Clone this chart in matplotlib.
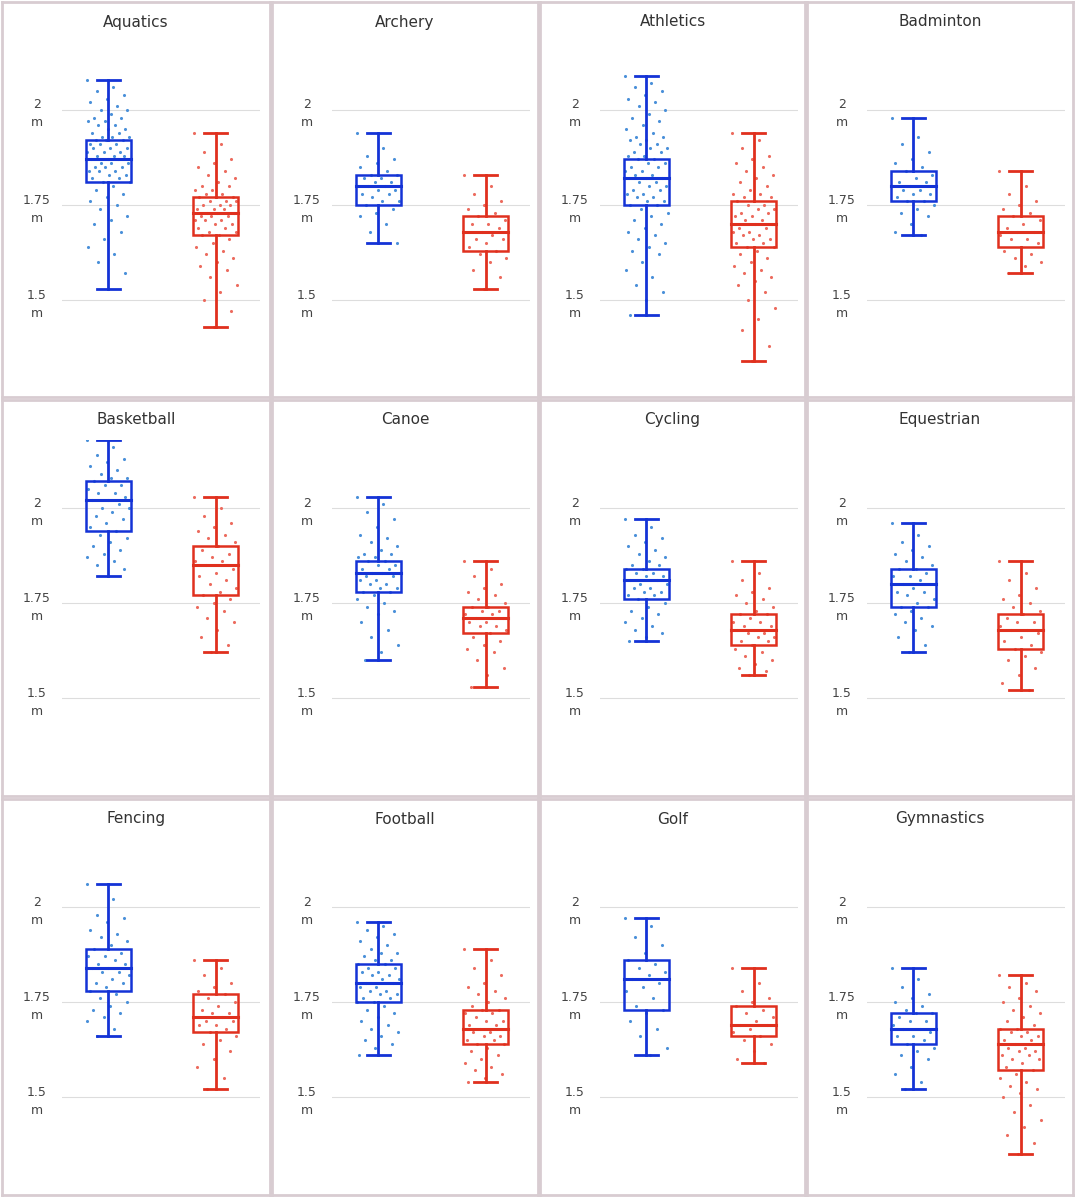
import matplotlib
matplotlib.use('Agg')
import matplotlib.pyplot as plt

SPORTS = ['Aquatics', 'Archery', 'Athletics', 'Badminton',
          'Basketball', 'Canoe', 'Cycling', 'Equestrian',
          'Fencing', 'Football', 'Golf', 'Gymnastics']

# box stats: whisker low, q1, median, q3, whisker high (metres)
MEN_BOX = [
    [1.53, 1.81, 1.87, 1.92, 2.08], [1.65, 1.75, 1.80, 1.83, 1.94],
    [1.46, 1.75, 1.82, 1.87, 2.09], [1.67, 1.76, 1.80, 1.84, 1.98],
    [1.82, 1.94, 2.02, 2.07, 2.18], [1.60, 1.78, 1.83, 1.86, 2.03],
    [1.65, 1.76, 1.81, 1.84, 1.97], [1.62, 1.74, 1.80, 1.84, 1.96],
    [1.66, 1.78, 1.84, 1.89, 2.06], [1.61, 1.75, 1.80, 1.85, 1.96],
    [1.61, 1.73, 1.81, 1.86, 1.97], [1.52, 1.64, 1.68, 1.72, 1.84],
]
WOMEN_BOX = [
    [1.43, 1.67, 1.73, 1.77, 1.94], [1.53, 1.63, 1.68, 1.72, 1.83],
    [1.34, 1.64, 1.70, 1.76, 1.94], [1.57, 1.64, 1.68, 1.72, 1.84],
    [1.62, 1.77, 1.85, 1.90, 2.03], [1.53, 1.67, 1.71, 1.74, 1.86],
    [1.56, 1.64, 1.68, 1.72, 1.86], [1.52, 1.63, 1.68, 1.72, 1.86],
    [1.52, 1.67, 1.71, 1.77, 1.86], [1.54, 1.64, 1.68, 1.73, 1.89],
    [1.59, 1.66, 1.69, 1.74, 1.84], [1.35, 1.57, 1.64, 1.68, 1.82],
]

# individual athlete heights (approximate readings)
MEN_PTS = [
    [2.08, 2.06, 2.05, 2.04, 2.03, 2.02, 2.01, 2.00, 2.00, 1.99, 1.98, 1.98, 1.97, 1.97, 1.96, 1.96, 1.95, 1.95, 1.94, 1.94, 1.93, 1.93, 1.93, 1.92, 1.92, 1.92, 1.91, 1.91, 1.91, 1.90, 1.90, 1.90, 1.89, 1.89, 1.89, 1.88, 1.88, 1.88, 1.87, 1.87, 1.87, 1.86, 1.86, 1.86, 1.85, 1.85, 1.85, 1.84, 1.84, 1.84, 1.83, 1.83, 1.82, 1.82, 1.81, 1.81, 1.80, 1.79, 1.78, 1.77, 1.76, 1.75, 1.74, 1.72, 1.71, 1.70, 1.68, 1.66, 1.64, 1.62, 1.60, 1.57, 1.53],
    [1.94, 1.90, 1.88, 1.87, 1.86, 1.85, 1.84, 1.83, 1.83, 1.82, 1.82, 1.81, 1.81, 1.80, 1.80, 1.80, 1.79, 1.79, 1.78, 1.78, 1.77, 1.76, 1.76, 1.75, 1.74, 1.73, 1.72, 1.70, 1.68, 1.65],
    [2.09, 2.07, 2.06, 2.05, 2.04, 2.03, 2.02, 2.01, 2.00, 1.99, 1.98, 1.97, 1.96, 1.95, 1.94, 1.93, 1.93, 1.92, 1.92, 1.91, 1.91, 1.90, 1.90, 1.89, 1.89, 1.88, 1.88, 1.87, 1.87, 1.86, 1.86, 1.85, 1.85, 1.84, 1.84, 1.83, 1.83, 1.82, 1.82, 1.82, 1.81, 1.81, 1.80, 1.80, 1.79, 1.79, 1.78, 1.78, 1.77, 1.77, 1.76, 1.76, 1.75, 1.75, 1.74, 1.73, 1.72, 1.71, 1.70, 1.69, 1.68, 1.67, 1.66, 1.65, 1.64, 1.63, 1.62, 1.60, 1.58, 1.56, 1.54, 1.52, 1.50, 1.46],
    [1.98, 1.93, 1.91, 1.89, 1.87, 1.86, 1.85, 1.84, 1.83, 1.82, 1.81, 1.81, 1.80, 1.80, 1.79, 1.79, 1.78, 1.78, 1.77, 1.76, 1.76, 1.75, 1.74, 1.73, 1.72, 1.70, 1.68, 1.67],
    [2.18, 2.16, 2.14, 2.13, 2.12, 2.11, 2.10, 2.09, 2.08, 2.08, 2.07, 2.06, 2.06, 2.05, 2.04, 2.04, 2.03, 2.02, 2.02, 2.01, 2.00, 2.00, 1.99, 1.98, 1.97, 1.96, 1.95, 1.94, 1.93, 1.92, 1.91, 1.90, 1.89, 1.88, 1.87, 1.86, 1.85, 1.84, 1.82],
    [2.03, 2.01, 1.99, 1.97, 1.95, 1.93, 1.92, 1.91, 1.90, 1.89, 1.88, 1.88, 1.87, 1.87, 1.86, 1.86, 1.85, 1.85, 1.84, 1.84, 1.83, 1.83, 1.83, 1.82, 1.82, 1.81, 1.81, 1.80, 1.80, 1.79, 1.79, 1.78, 1.78, 1.77, 1.76, 1.75, 1.74, 1.73, 1.72, 1.70, 1.68, 1.66, 1.64, 1.62, 1.60],
    [1.97, 1.95, 1.93, 1.92, 1.91, 1.90, 1.89, 1.88, 1.87, 1.86, 1.85, 1.85, 1.84, 1.84, 1.83, 1.83, 1.82, 1.82, 1.81, 1.81, 1.80, 1.80, 1.79, 1.79, 1.78, 1.78, 1.77, 1.77, 1.76, 1.75, 1.74, 1.73, 1.72, 1.71, 1.70, 1.69, 1.68, 1.67, 1.66, 1.65],
    [1.96, 1.93, 1.91, 1.90, 1.89, 1.88, 1.87, 1.86, 1.85, 1.84, 1.84, 1.83, 1.82, 1.82, 1.81, 1.80, 1.80, 1.79, 1.78, 1.78, 1.77, 1.76, 1.75, 1.74, 1.74, 1.73, 1.72, 1.71, 1.70, 1.69, 1.68, 1.66, 1.64, 1.62],
    [2.06, 2.02, 1.98, 1.97, 1.96, 1.94, 1.93, 1.92, 1.91, 1.90, 1.89, 1.88, 1.87, 1.87, 1.86, 1.85, 1.85, 1.84, 1.84, 1.83, 1.83, 1.82, 1.81, 1.80, 1.80, 1.79, 1.78, 1.77, 1.76, 1.75, 1.74, 1.73, 1.72, 1.71, 1.70, 1.68, 1.66],
    [1.96, 1.95, 1.94, 1.93, 1.92, 1.91, 1.90, 1.89, 1.88, 1.88, 1.87, 1.86, 1.86, 1.85, 1.85, 1.84, 1.84, 1.83, 1.83, 1.82, 1.82, 1.81, 1.81, 1.80, 1.80, 1.79, 1.79, 1.78, 1.78, 1.77, 1.77, 1.76, 1.76, 1.75, 1.75, 1.74, 1.73, 1.72, 1.71, 1.70, 1.69, 1.68, 1.67, 1.66, 1.65, 1.64, 1.63, 1.61],
    [1.97, 1.95, 1.92, 1.90, 1.88, 1.86, 1.85, 1.84, 1.83, 1.82, 1.81, 1.80, 1.79, 1.78, 1.76, 1.74, 1.73, 1.72, 1.70, 1.68, 1.66, 1.63, 1.61],
    [1.84, 1.81, 1.79, 1.77, 1.76, 1.75, 1.74, 1.73, 1.72, 1.72, 1.71, 1.70, 1.70, 1.69, 1.68, 1.68, 1.67, 1.66, 1.66, 1.65, 1.64, 1.63, 1.62, 1.61, 1.60, 1.58, 1.56, 1.54, 1.52],
]
WOMEN_PTS = [
    [1.94, 1.91, 1.89, 1.87, 1.86, 1.85, 1.84, 1.83, 1.82, 1.81, 1.80, 1.80, 1.79, 1.79, 1.78, 1.78, 1.77, 1.77, 1.77, 1.76, 1.76, 1.76, 1.75, 1.75, 1.75, 1.74, 1.74, 1.74, 1.73, 1.73, 1.73, 1.72, 1.72, 1.72, 1.71, 1.71, 1.71, 1.70, 1.70, 1.69, 1.69, 1.68, 1.68, 1.67, 1.67, 1.66, 1.65, 1.64, 1.63, 1.62, 1.61, 1.60, 1.59, 1.58, 1.56, 1.54, 1.52, 1.50, 1.47, 1.43],
    [1.83, 1.80, 1.78, 1.76, 1.75, 1.74, 1.73, 1.72, 1.71, 1.70, 1.70, 1.69, 1.68, 1.68, 1.67, 1.66, 1.66, 1.65, 1.64, 1.63, 1.62, 1.61, 1.60, 1.58, 1.56, 1.53],
    [1.94, 1.92, 1.90, 1.88, 1.87, 1.86, 1.85, 1.84, 1.83, 1.82, 1.81, 1.80, 1.79, 1.78, 1.78, 1.77, 1.77, 1.76, 1.76, 1.75, 1.75, 1.74, 1.74, 1.73, 1.73, 1.72, 1.72, 1.71, 1.71, 1.70, 1.70, 1.69, 1.69, 1.68, 1.68, 1.67, 1.67, 1.66, 1.66, 1.65, 1.65, 1.64, 1.64, 1.63, 1.62, 1.61, 1.60, 1.59, 1.58, 1.57, 1.56, 1.55, 1.54, 1.52, 1.50, 1.48, 1.45, 1.42, 1.38, 1.34],
    [1.84, 1.80, 1.78, 1.76, 1.75, 1.74, 1.73, 1.72, 1.71, 1.70, 1.69, 1.68, 1.68, 1.67, 1.66, 1.66, 1.65, 1.64, 1.63, 1.62, 1.61, 1.60, 1.59, 1.57],
    [2.03, 2.00, 1.98, 1.96, 1.95, 1.94, 1.93, 1.92, 1.91, 1.90, 1.89, 1.88, 1.87, 1.86, 1.86, 1.85, 1.84, 1.83, 1.82, 1.81, 1.80, 1.79, 1.78, 1.77, 1.76, 1.75, 1.74, 1.73, 1.71, 1.70, 1.68, 1.66, 1.64, 1.62],
    [1.86, 1.84, 1.82, 1.80, 1.79, 1.78, 1.77, 1.76, 1.75, 1.74, 1.74, 1.73, 1.73, 1.72, 1.72, 1.71, 1.71, 1.70, 1.70, 1.69, 1.69, 1.68, 1.67, 1.66, 1.65, 1.64, 1.63, 1.62, 1.60, 1.58, 1.56, 1.53],
    [1.86, 1.83, 1.81, 1.79, 1.78, 1.77, 1.76, 1.75, 1.74, 1.73, 1.72, 1.72, 1.71, 1.70, 1.70, 1.69, 1.69, 1.68, 1.68, 1.67, 1.67, 1.66, 1.66, 1.65, 1.65, 1.64, 1.63, 1.62, 1.61, 1.60, 1.59, 1.58, 1.57, 1.56],
    [1.86, 1.83, 1.81, 1.79, 1.77, 1.76, 1.75, 1.74, 1.73, 1.72, 1.71, 1.70, 1.70, 1.69, 1.68, 1.68, 1.67, 1.66, 1.65, 1.64, 1.63, 1.62, 1.61, 1.60, 1.58, 1.56, 1.54, 1.52],
    [1.86, 1.84, 1.82, 1.80, 1.79, 1.78, 1.77, 1.76, 1.75, 1.74, 1.73, 1.72, 1.72, 1.71, 1.71, 1.70, 1.70, 1.69, 1.69, 1.68, 1.67, 1.66, 1.65, 1.64, 1.62, 1.60, 1.58, 1.55, 1.52],
    [1.89, 1.86, 1.84, 1.82, 1.80, 1.79, 1.78, 1.77, 1.76, 1.75, 1.74, 1.73, 1.73, 1.72, 1.72, 1.71, 1.70, 1.70, 1.69, 1.69, 1.68, 1.68, 1.67, 1.67, 1.66, 1.66, 1.65, 1.65, 1.64, 1.64, 1.63, 1.62, 1.61, 1.60, 1.59, 1.58, 1.57, 1.56, 1.55, 1.54],
    [1.84, 1.80, 1.78, 1.76, 1.75, 1.74, 1.73, 1.72, 1.71, 1.70, 1.69, 1.69, 1.68, 1.67, 1.66, 1.65, 1.64, 1.62, 1.60, 1.59],
    [1.82, 1.80, 1.79, 1.78, 1.76, 1.75, 1.74, 1.73, 1.72, 1.71, 1.70, 1.69, 1.68, 1.68, 1.67, 1.67, 1.66, 1.66, 1.65, 1.65, 1.64, 1.64, 1.63, 1.63, 1.62, 1.62, 1.61, 1.61, 1.60, 1.60, 1.59, 1.58, 1.57, 1.56, 1.55, 1.54, 1.53, 1.52, 1.51, 1.50, 1.48, 1.46, 1.44, 1.42, 1.40, 1.38, 1.35],
]

W, H = 1076, 1200
BLUE, BLUE_PT = '#1433d6', '#4a90d9'
RED, RED_PT = '#e0301e', '#ec6b5e'
BORDER = '#d8ccd1'

col_edges = [(2, 270), (272, 538), (540, 805), (807, 1073)]
row_edges = [(2, 397), (400, 796), (799, 1195)]

fig = plt.figure(figsize=(W / 100, H / 100), dpi=100)
fig.patch.set_facecolor('white')


def draw_series(ax, x, box, pts, line_c, pt_c):
    lo, q1, med, q3, hi = box
    # jitter: deterministic spread across the box width
    xs = [x + ((i * 0.618034) % 1.0 - 0.5) * 0.46 for i in range(len(pts))]
    ax.scatter(xs, pts, s=5, color=pt_c, linewidths=0, zorder=2)
    hw = 0.24
    ax.plot([x, x], [lo, q1], color=line_c, lw=2, zorder=3)
    ax.plot([x, x], [q3, hi], color=line_c, lw=2, zorder=3)
    for v in (lo, hi):
        ax.plot([x - 0.12, x + 0.12], [v, v], color=line_c, lw=2, zorder=3)
    ax.add_patch(plt.Rectangle((x - hw, q1), 2 * hw, q3 - q1, fill=False,
                               edgecolor=line_c, lw=1.8, zorder=3))
    ax.plot([x - hw, x + hw], [med, med], color=line_c, lw=2.2, zorder=3)


for i, sport in enumerate(SPORTS):
    r, c = divmod(i, 4)
    x0, x1 = col_edges[c]
    y0, y1 = row_edges[r]
    # panel frame
    frame = fig.add_axes([x0 / W, 1 - y1 / H, (x1 - x0) / W, (y1 - y0) / H])
    frame.set_xticks([])
    frame.set_yticks([])
    for s in frame.spines.values():
        s.set_color(BORDER)
        s.set_linewidth(2)
    frame.text(0.5, 1 - 20 / (y1 - y0), sport, transform=frame.transAxes,
               ha='center', va='center', fontsize=11, color='#333333')

    # plot area: y value 2.0 sits 108 px below panel top, 0.25 m = 95 px
    top_px, bot_px = y0 + 40, y0 + 390
    v_top = 2 + (108 - 40) / 380
    v_bot = 2 - (390 - 108) / 380
    pl, pr = x0 + 60, x0 + 258
    ax = fig.add_axes([pl / W, 1 - bot_px / H, (pr - pl) / W, (bot_px - top_px) / H])
    ax.set_facecolor('none')
    ax.set_ylim(v_bot, v_top)
    ax.set_xlim(-0.25, 1.85)
    for s in ax.spines.values():
        s.set_visible(False)
    ax.set_xticks([])
    ax.set_yticks([1.5, 1.75, 2.0])
    ax.set_yticklabels(['1.5\nm', '1.75\nm', '2\nm'], fontsize=9, color='#444444',
                       linespacing=1.5)
    ax.tick_params(axis='y', length=0, pad=18)
    for lab in ax.get_yticklabels():
        lab.set_horizontalalignment('center')
    ax.grid(axis='y', color='#dddddd', lw=0.8)
    ax.set_axisbelow(True)

    draw_series(ax, 0.24, MEN_BOX[i], MEN_PTS[i], BLUE, BLUE_PT)
    draw_series(ax, 1.38, WOMEN_BOX[i], WOMEN_PTS[i], RED, RED_PT)

fig.savefig('out.png', dpi=100)
